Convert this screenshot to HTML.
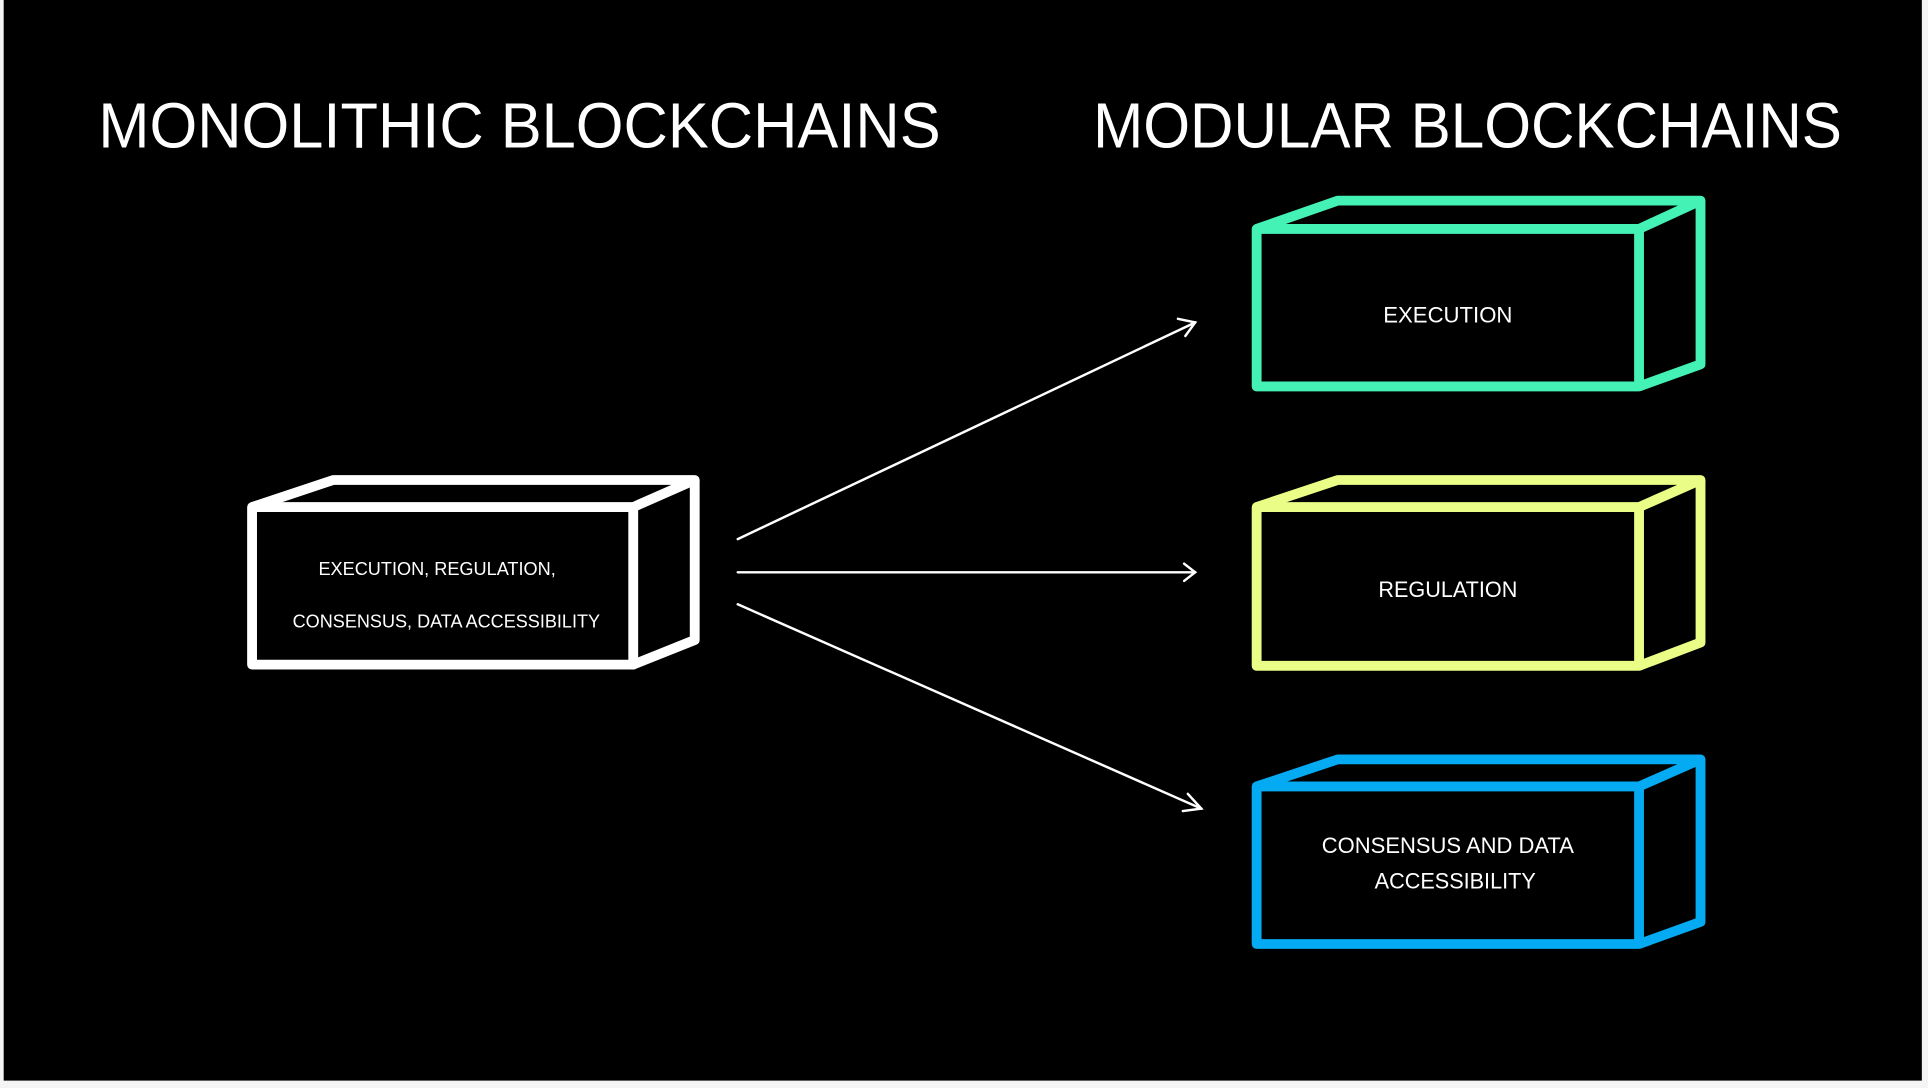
<!DOCTYPE html>
<html><head><meta charset="utf-8"><style>
html,body{margin:0;padding:0;background:#fff;width:1928px;height:1088px;overflow:hidden}
svg{display:block}
text{font-family:"Liberation Sans",sans-serif;fill:#fff}
</style></head><body>
<svg width="1928" height="1088" viewBox="0 0 1568 884" preserveAspectRatio="none" xmlns="http://www.w3.org/2000/svg">
<rect x="0" y="0" width="1568" height="884" fill="#f4f4f4"/>
<rect x="3" y="0" width="1560" height="878" fill="#000"/>
<text x="80" y="120" font-size="52" textLength="685" lengthAdjust="spacingAndGlyphs">MONOLITHIC BLOCKCHAINS</text>
<text x="889" y="120" font-size="52" textLength="609" lengthAdjust="spacingAndGlyphs">MODULAR BLOCKCHAINS</text>
<g fill="none" stroke-width="8" stroke-linejoin="round">
<g stroke="#fff">
<rect x="205" y="412" width="310" height="128"/>
<polyline points="205,412 271,390 565,390 515,412"/>
<polyline points="565,390 565,520 515,540"/>
</g>
<g stroke="#44f2b6">
<rect x="1022" y="186" width="311" height="128"/>
<polyline points="1022,186 1088,163 1383,163 1333,186"/>
<polyline points="1383,163 1383,296 1333,314"/>
</g>
<g stroke="#eafd86">
<rect x="1022" y="412" width="311" height="129"/>
<polyline points="1022,412 1088,390 1383,390 1333,412"/>
<polyline points="1383,390 1383,522 1333,541"/>
</g>
<g stroke="#04aaf2">
<rect x="1022" y="639" width="311" height="128"/>
<polyline points="1022,639 1088,617 1383,617 1333,639"/>
<polyline points="1383,617 1383,749 1333,767"/>
</g>
</g>
<g stroke="#fff" stroke-width="2" fill="none" stroke-linecap="round">
<line x1="600" y1="438" x2="972" y2="262"/>
<polyline points="958,259 972,262 964,273"/>
<line x1="600" y1="465" x2="972" y2="465"/>
<polyline points="963,458 972,465 963,472"/>
<line x1="600" y1="491" x2="977" y2="657"/>
<polyline points="966,645 977,657 962,659"/>
</g>
<text x="259" y="467" font-size="15" textLength="193" lengthAdjust="spacingAndGlyphs">EXECUTION, REGULATION,</text>
<text x="238" y="510" font-size="15" textLength="250" lengthAdjust="spacingAndGlyphs">CONSENSUS, DATA ACCESSIBILITY</text>
<text x="1125" y="262" font-size="18" textLength="105" lengthAdjust="spacingAndGlyphs">EXECUTION</text>
<text x="1121" y="485" font-size="18" textLength="113" lengthAdjust="spacingAndGlyphs">REGULATION</text>
<text x="1075" y="693" font-size="18" textLength="205" lengthAdjust="spacingAndGlyphs">CONSENSUS AND DATA</text>
<text x="1118" y="722" font-size="18" textLength="131" lengthAdjust="spacingAndGlyphs">ACCESSIBILITY</text>
</svg>
</body></html>
